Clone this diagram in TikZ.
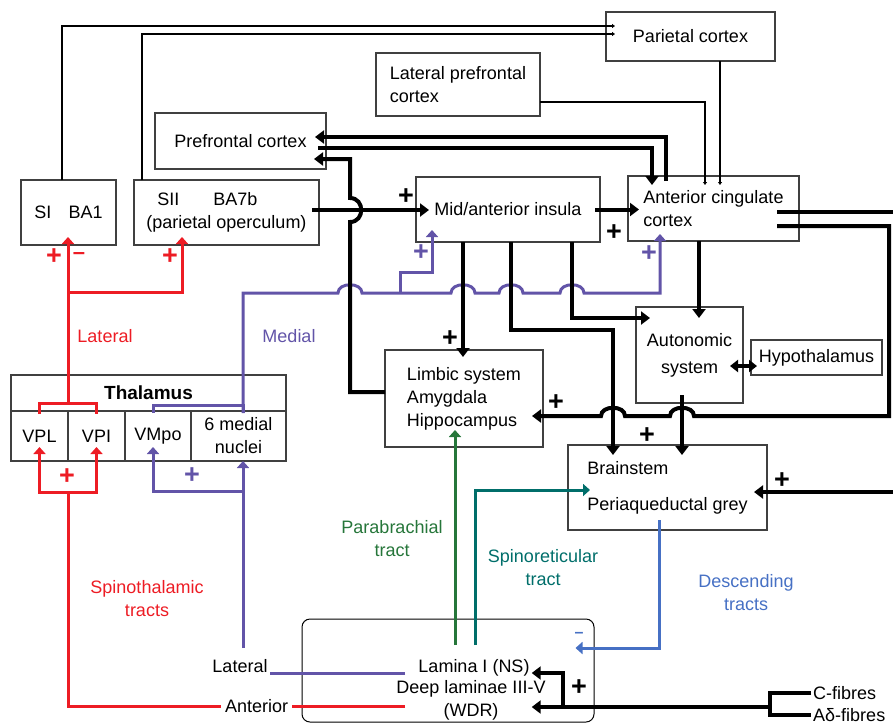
\documentclass[tikz,border=0pt]{standalone}
\usepackage{fontspec}
\setmainfont{Liberation Sans}
\usetikzlibrary{arrows.meta, positioning, calc}

\definecolor{stred}{RGB}{237,28,36}
\definecolor{medpurple}{RGB}{98,84,168}
\definecolor{pbgreen}{RGB}{38,118,58}
\definecolor{srteal}{RGB}{0,110,106}
\definecolor{descblue}{RGB}{70,112,196}

\begin{document}
\begin{tikzpicture}[
      x=1pt, y=-1pt,
      font=\fontsize{18}{23}\selectfont,
      base/.style = {draw=black!75, line width=1.2pt, inner sep=0pt, outer sep=0pt, align=center},
      % --- boxes ---
      region/.style 2 args = {base, minimum width=#1, minimum height=#2},
      txt/.style = {inner sep=2pt, align=center},
      sign/.style = {inner sep=0pt, font=\fontsize{27}{27}\selectfont\bfseries},
      % --- connectors ---
      link/.style = {line width=4pt, -{Triangle[length=9pt, width=13pt]}},
      bar/.style = {line width=4pt},
      fine/.style = {line width=1.1pt, -{Triangle[length=3pt, width=4pt]}},
      tract/.style = {line width=3pt, -{Triangle[length=7pt, width=12pt]}}
    ]
      \useasboundingbox (0,0) rectangle (893,724);

      % --- cortex ---
      \node [region={95pt}{65pt}] (si) at (68.5,212.5) {SI\hspace{0.95em}BA1};
      \node [region={185pt}{65pt}, align=left] (sii) at (226.5,212.5) {\hspace{0.6em}SII\hspace{1.9em}BA7b\\(parietal operculum)};
      \node [region={171pt}{56pt}] (pfc) at (240.5,141) {Prefrontal cortex};
      \node [region={164pt}{63pt}, align=left] (lpfc) at (458,84.5) {Lateral prefrontal\\cortex};
      \node [region={169pt}{49pt}] (par) at (690.5,36.5) {Parietal cortex};
      \node [region={184pt}{65pt}] (ins) at (508,209.5) {Mid/anterior insula};
      \node [region={171pt}{65pt}, align=left] (acc) at (713.5,208.5) {Anterior cingulate\\cortex};

      % --- subcortical ---
      \node [region={107pt}{96pt}] (aut) at (689.5,355) {Autonomic\\[4pt]system};
      \node [region={131pt}{35pt}] (hyp) at (816.5,357.5) {Hypothalamus};
      \node [region={158pt}{97pt}, align=left] (lim) at (464,398.5) {Limbic system\\Amygdala\\Hippocampus};
      \node [region={199pt}{85pt}, align=left] (bs) at (667.5,487.5) {Brainstem\\[13pt]Periaqueductal grey};

      % --- thalamus ---
      \node [region={275pt}{36pt}, font=\fontsize{19}{23}\selectfont\bfseries] (thal) at (148.5,393) {Thalamus};
      \node [region={57pt}{50pt}, anchor=north west] (vpl) at (thal.south west) {VPL};
      \node [region={57pt}{50pt}, right=0pt of vpl] (vpi) {VPI};
      \node [region={66pt}{50pt}, right=0pt of vpi] (vmpo) {VMpo};
      \node [region={95pt}{50pt}, right=0pt of vmpo] (med) {6 medial\\nuclei};

      % --- spinal cord ---
      \node [draw=black, line width=1pt, rounded corners=8pt, minimum width=292pt, minimum height=103pt] (cord) at (448,670.5) {};
      \node [txt] (lamI) at (474,668) {Lamina I (NS)};
      \node [txt] (deep) at (471,700) {Deep laminae III-V\\(WDR)};

      % --- labels ---
      \node [txt, text=stred] (latlbl) at (105,336) {Lateral};
      \node [txt, text=medpurple] (medlbl) at (289,336) {Medial};
      \node [txt, text=stred] (stlbl) at (147,599) {Spinothalamic\\tracts};
      \node [txt, text=pbgreen] (pblbl) at (392,539) {Parabrachial\\tract};
      \node [txt, text=srteal] (srlbl) at (543,568) {Spinoreticular\\tract};
      \node [txt, text=descblue] (dslbl) at (746,593) {Descending\\tracts};
      \node [txt] (latin) at (240,666) {Lateral};
      \node [txt, anchor=west] (cfib) at (811,693) {C-fibres};
      \node [txt, anchor=west] (afib) at (811,715) {Aδ-fibres};
      \coordinate (offR1) at (893,212);
      \coordinate (offR2) at (893,492);

      % --- signs ---
      \foreach \px/\py [count=\k] in {406/197, 614/233, 450/339, 556/403, 647/436, 782/481, 579/688}
        \node [sign] (plus\k) at (\px,\py) {+};
      \node [sign, text=stred] (rp1) at (54,257) {+};
      \node [sign, text=stred, font=\fontsize{22}{22}\selectfont\bfseries] (rm1) at (79,256) {\textendash};
      \node [sign, text=stred] (rp2) at (170,257) {+};
      \node [sign, text=stred] (rp3) at (67,477) {+};
      \node [sign, text=medpurple] (mp1) at (421,253) {+};
      \node [sign, text=medpurple] (mp2) at (649,254) {+};
      \node [sign, text=medpurple] (mp3) at (192,476) {+};
      \node [sign, text=descblue, font=\fontsize{16}{16}\selectfont\bfseries] (dm1) at (579,635) {\textendash};

      % --- medial (purple) ---
      \draw [tract, -, medpurple] ([xshift=-5pt,yshift=-2pt]vmpo.north) |- (243,405) -- (243,413);
      \draw [tract, medpurple, shorten >=-7pt] (243,413) -- (243,293)
        \foreach \hx in {350,463,511,572} { -- (\hx-12,293) .. controls (\hx-12,282) and (\hx+12,282) .. (\hx+12,293) }
        -- (660,293) -- (660,0 |- acc.south);
      \draw [tract, medpurple, shorten >=-12pt] (400,293) -- (400,272) -| (432,0 |- ins.south);
      \draw [tract, -, medpurple] (405,673) -- (latin.east |- 0,673);
      \draw [tract, medpurple] (243,648) -- (243,0 |- med.south);
      \draw [tract, medpurple] (243,491) -| ([xshift=-5pt,yshift=14pt]vmpo.south);

      % --- lateral (red) ---
      \draw [tract, -, stred] ([yshift=-3pt]vpl.north) |- ([yshift=8pt]vpi.north) -- ([yshift=-3pt]vpi.north);
      \draw [tract, stred, shorten >=-8pt] ([yshift=8pt]vpl.north east) -- (68,0 |- si.south);
      \draw [tract, stred, shorten >=-8pt] (68,292) -| (182,0 |- sii.south);
      \draw [tract, -, stred] (405,706) -- node[pos=0.44, txt, fill=white, text=black, inner sep=4pt] (ant) {Anterior} (68,706) -- (68,492);
      \draw [tract, stred] (68,492) -| ([yshift=14pt]vpl.south);
      \draw [tract, stred] (68,492) -| ([yshift=14pt]vpi.south);

      % --- other tracts ---
      \draw [tract, pbgreen, shorten >=-17pt] (455,645) -- (455,0 |- lim.south);
      \draw [tract, srteal, shorten >=-22pt] (475,645) |- (bs.west |- 0,490);
      \draw [tract, descblue, shorten <=-10pt, shorten >=-19pt] (659,0 |- bs.south) |- (cord.east |- 0,648);

      % --- thin connections ---
      \draw [fine, shorten >=-9pt] (62,0 |- si.north) |- (par.west |- 0,26);
      \draw [fine, shorten >=-9pt] (142,0 |- sii.north) |- (par.west |- 0,34);
      \draw [fine, shorten >=-9pt] (lpfc.east |- 0,102) -| (705,0 |- acc.north);
      \draw [fine, shorten >=-9pt] (720,0 |- par.south) -- (720,0 |- acc.north);

      % --- thick connections ---
      \draw [link, shorten <=-5pt, shorten >=-11pt] (666,0 |- acc.north) |- (pfc.east |- 0,137);
      \draw [link, shorten <=-8pt, shorten >=-9pt] (pfc.east |- 0,148) -| (652,0 |- acc.north);
      \draw [link, shorten >=-12pt] (lim.west |- 0,392) -- (350,392) -- (350,222)
        .. controls (365,222) and (365,198) .. (350,198) |- (pfc.east |- 0,159);
      \draw [link, shorten <=-7pt, shorten >=-13pt] (sii.east |- 0,210) -- (ins.west |- 0,210);
      \draw [link, shorten <=-5pt, shorten >=-11pt] (ins.east) -- (acc.west |- ins.east);
      \draw [link, shorten >=-7pt] (463,0 |- ins.south) -- (463,0 |- lim.north);
      \draw [link, shorten >=-10pt] (511,0 |- ins.south) |- (613,330) -- (613,0 |- bs.north);
      \draw [link, shorten >=-14pt] (572,0 |- ins.south) |- (aut.west |- 0,318);
      \draw [link, shorten >=-11pt] (699,0 |- acc.south) -- (699,0 |- aut.north);
      \draw [bar, shorten <=-22pt] (acc.east |- offR1) -- (offR1);
      \draw [link, shorten <=-22pt, shorten >=-11pt] (acc.east |- 0,226) -- (889,226) -- (889,416) -- (694,416)
        .. controls (694,405) and (670,405) .. (670,416) -- (625,416)
        .. controls (625,405) and (601,405) .. (601,416) -- (lim.east |- 0,416);
      \draw [link, shorten <=-8pt, shorten >=-10pt] (682,0 |- aut.south) -- (682,0 |- bs.north);
      \draw [line width=4pt, {Triangle[length=8pt, width=12pt]}-{Triangle[length=8pt, width=12pt]}] ($(aut.east)+(-13,11)$) -- ($(hyp.west)+(6,8.5)$);
      \draw [link, shorten >=-13pt] (offR2) -- (bs.east |- offR2);

      % --- primary afferents ---
      \draw [bar] (cfib.west) -| (770,715) -- (afib.west);
      \draw [link] (770,707) -- (lamI.east |- 0,707);
      \draw [link] (563,707) |- ([yshift=-5pt]lamI.east);

    \end{tikzpicture}
\end{document}
